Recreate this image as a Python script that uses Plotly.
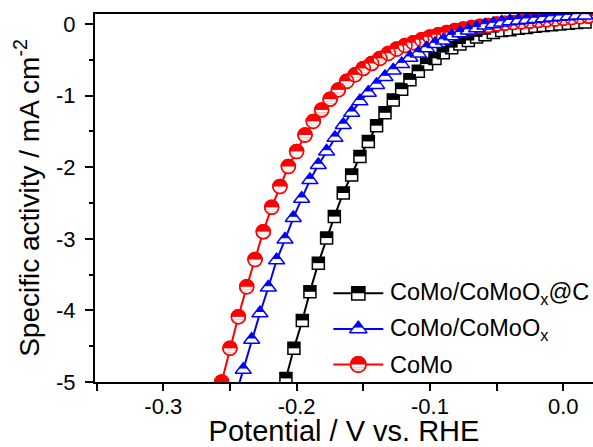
import math
import plotly.graph_objects as go

# ---------------- data ----------------
como_c_v = [-0.2080, -0.2020, -0.1957, -0.1900, -0.1837, -0.1775, -0.1717, -0.1650, -0.1587, -0.1525,
            -0.1462, -0.1400, -0.1337, -0.1275, -0.1212, -0.1150, -0.1087, -0.1025, -0.0962, -0.0900,
            -0.0837, -0.0775, -0.0712, -0.0650, -0.0587, -0.0525, -0.0462, -0.0400, -0.0337, -0.0275,
            -0.0212, -0.0150, -0.0087, -0.0025, 0.0038, 0.0100, 0.0163]
como_c_j = [-4.95, -4.53, -4.14, -3.74, -3.34, -2.99, -2.69, -2.36, -2.11, -1.85,
            -1.64, -1.42, -1.24, -1.06, -0.91, -0.78, -0.66, -0.56, -0.48, -0.40,
            -0.33, -0.28, -0.23, -0.18, -0.15, -0.12, -0.09, -0.08, -0.06, -0.05,
            -0.03, -0.02, -0.01, 0.00, 0.01, 0.02, 0.03]

como_ox_v = [-0.2462, -0.2400, -0.2337, -0.2275, -0.2212, -0.2150, -0.2087, -0.2025, -0.1962, -0.1900,
             -0.1837, -0.1775, -0.1712, -0.1650, -0.1587, -0.1525, -0.1462, -0.1400, -0.1337, -0.1275,
             -0.1212, -0.1150, -0.1087, -0.1025, -0.0962, -0.0900, -0.0837, -0.0775, -0.0712, -0.0650,
             -0.0587, -0.0525, -0.0462, -0.0400, -0.0337, -0.0275, -0.0212, -0.0150, -0.0087, -0.0025,
             0.0038, 0.0100, 0.0163]
como_ox_j = [-5.22, -4.83, -4.41, -4.04, -3.68, -3.30, -3.01, -2.71, -2.44, -2.18,
             -1.97, -1.78, -1.59, -1.41, -1.24, -1.08, -0.96, -0.85, -0.74, -0.65,
             -0.56, -0.47, -0.41, -0.34, -0.28, -0.23, -0.17, -0.13, -0.09, -0.06,
             -0.02, 0.00, 0.02, 0.04, 0.05, 0.06, 0.07, 0.08, 0.09, 0.10,
             0.11, 0.12, 0.12]

como_v = [-0.2562, -0.2500, -0.2437, -0.2374, -0.2312, -0.2250, -0.2187, -0.2125, -0.2062, -0.2000,
          -0.1937, -0.1875, -0.1812, -0.1749, -0.1687, -0.1624, -0.1562, -0.1500, -0.1437, -0.1375,
          -0.1312, -0.1249, -0.1187, -0.1125, -0.1062, -0.1000, -0.0937, -0.0874, -0.0812, -0.0750,
          -0.0687, -0.0625, -0.0562, -0.0499, -0.0437, -0.0375, -0.0312, -0.0250, -0.0187, -0.0124,
          -0.0062, 0.0000, 0.0063, 0.0125, 0.0188]
como_j = [-5.00, -4.53, -4.09, -3.67, -3.29, -2.90, -2.56, -2.27, -1.99, -1.78,
          -1.55, -1.36, -1.20, -1.05, -0.92, -0.80, -0.71, -0.62, -0.55, -0.48,
          -0.41, -0.35, -0.30, -0.26, -0.22, -0.18, -0.15, -0.12, -0.09, -0.07,
          -0.05, -0.03, -0.02, 0.00, 0.01, 0.02, 0.03, 0.04, 0.05, 0.06,
          0.07, 0.08, 0.09, 0.10, 0.11]

series_names = ["CoMo/CoMoO<sub>x</sub>@C", "CoMo/CoMoO<sub>x</sub>", "CoMo"]
series_colors = ["#000000", "#0000FF", "#FF0000"]
series_kinds = ["square", "triangle", "circle"]

x_tick_vals = [-0.3, -0.2, -0.1, 0.0]
x_tick_text = ["-0.3", "-0.2", "-0.1", "0.0"]
x_minor_vals = [-0.35, -0.25, -0.15, -0.05]
y_tick_vals = [-5, -4, -3, -2, -1, 0]
y_tick_text = ["-5", "-4", "-3", "-2", "-1", "0"]
y_minor_vals = [-4.5, -3.5, -2.5, -1.5, -0.5]

# ---------------- layout constants ----------------
W, H = 593, 447
ML, MR, MT, MB = 95, 0, 14, 65
X_RANGE = [-0.3512, 0.0223]
Y_RANGE = [-5.0, 0.14]
PLOT_H = H - MT - MB
FONT = "Liberation Sans, Arial, sans-serif"

SQ, TRI, CIR, MLW = 12, 14, 14, 1.5


def marker_layers(x, y, color, kind, up, xa, ya, scale=1.0):
    """Half-filled marker built from plotly symbols. `up(p)` converts an
    upward pixel shift into data units."""
    tr = []
    sq, tri, cir = SQ * scale, TRI * scale, CIR * scale

    def sc(sym, size, fill, lcol, lw, shift):
        tr.append(go.Scatter(x=x, y=[v + up(shift) for v in y], mode="markers",
                             xaxis=xa, yaxis=ya, hoverinfo="skip", showlegend=False,
                             marker=dict(symbol=sym, size=size, color=fill,
                                         line=dict(color=lcol, width=lw))))
    if kind == "square":
        sc("square", sq, "white", color, MLW, 0)
        sc("line-ew", sq / 1.4, color, color, sq / 2, sq / 4)
    elif kind == "triangle":
        sc("triangle-up", tri, "white", color, MLW, 0)
        sc("triangle-up", tri / 2, color, color, 1, tri / 4)
    else:
        sc("circle", cir, color, color, MLW, 0)
        ri = cir / 2 - MLW / 2
        for a, b, hw in [(0.0, 0.4, 1.0), (0.4, 0.7, 0.917), (0.7, 1.0, 0.714)]:
            sc("line-ew", 2 * hw * ri / 1.4, "white", "white", (b - a) * ri, -(a + b) / 2 * ri)
        sc("circle-open", cir, color, color, MLW, 0)
    return tr


def up_main(p):
    return p * (Y_RANGE[1] - Y_RANGE[0]) / PLOT_H


def up_px(p):
    return -p


fig = go.Figure()

data = [(como_c_v, como_c_j), (como_ox_v, como_ox_j), (como_v, como_j)]
draw_order = [0, 2, 1]  # blue drawn on top
for i in draw_order:
    xv, yv = data[i]
    fig.add_trace(go.Scatter(x=xv, y=yv, mode="lines", showlegend=False, hoverinfo="skip",
                             line=dict(color=series_colors[i], width=2)))
    for t in marker_layers(xv, yv, series_colors[i], series_kinds[i], up_main, "x", "y"):
        fig.add_trace(t)

# ---------------- legend drawn on a pixel-coordinate overlay ----------------
leg_rows = [293.3, 329.0, 364.5]
leg_line_x = [333.3, 383.3]
leg_mark_x = 358.3
leg_text_x = 387.5
for i in range(3):
    row = leg_rows[i]
    fig.add_trace(go.Scatter(x=leg_line_x, y=[row, row], mode="lines", xaxis="x2", yaxis="y2",
                             showlegend=False, hoverinfo="skip",
                             line=dict(color=series_colors[i], width=2)))
    for t in marker_layers([leg_mark_x], [row], series_colors[i], series_kinds[i], up_px,
                           "x2", "y2", scale=1.1):
        fig.add_trace(t)
    fig.add_annotation(x=leg_text_x, y=row, xref="x2", yref="y2", text=series_names[i],
                       showarrow=False, xanchor="left", yanchor="middle",
                       font=dict(family=FONT, size=23.5, color="black"))

axis_common = dict(showline=True, linewidth=2, linecolor="black", ticks="outside",
                   tickwidth=2, tickcolor="black", showgrid=False, zeroline=False,
                   tickfont=dict(family=FONT, size=22, color="black"))

fig.update_layout(
    width=W, height=H,
    margin=dict(l=ML, r=MR, t=MT, b=MB, autoexpand=False),
    paper_bgcolor="white", plot_bgcolor="white",
    showlegend=False,
    xaxis=dict(range=X_RANGE, mirror=True, tickmode="array", tickvals=x_tick_vals,
               ticktext=x_tick_text, ticklen=7, ticklabelstandoff=-3,
               minor=dict(tickmode="array", tickvals=x_minor_vals, ticks="outside",
                          ticklen=7, tickwidth=2, tickcolor="black"),
               title=dict(text="Potential / V vs. RHE", standoff=9,
                          font=dict(family=FONT, size=29, color="black")),
               automargin=False, **axis_common),
    yaxis=dict(range=Y_RANGE, mirror=False, tickmode="array", tickvals=y_tick_vals,
               ticktext=y_tick_text, ticklen=8, ticklabelstandoff=5,
               minor=dict(tickmode="array", tickvals=y_minor_vals, ticks="outside",
                          ticklen=4, tickwidth=2, tickcolor="black"),
               title=dict(text="Specific activity / mA cm<sup>-2</sup>", standoff=8,
                          font=dict(family=FONT, size=28, color="black")),
               automargin=False, **axis_common),
    xaxis2=dict(range=[ML, W - MR], overlaying="x", visible=False, domain=[0, 1]),
    yaxis2=dict(range=[H - MB, MT], overlaying="y", visible=False, domain=[0, 1]),
)

fig.write_html("out.html")
